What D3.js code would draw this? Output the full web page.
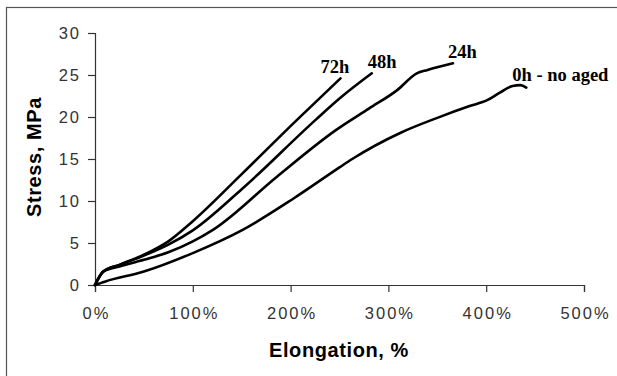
<!DOCTYPE html>
<html>
<head>
<meta charset="utf-8">
<script src="https://cdn.jsdelivr.net/npm/d3@7/dist/d3.min.js"></script>
<style>
  html, body { margin: 0; padding: 0; background: #fff; }
  svg { display: block; }
  .tick text { font-family: "Liberation Sans", Arial, sans-serif; font-size: 16.5px; fill: #333; letter-spacing: 2px; }
  .axis-title { font-family: "Liberation Sans", Arial, sans-serif; font-size: 20px; font-weight: bold; fill: #000; letter-spacing: 0.6px; }
  .curve-label { font-family: "Liberation Serif", "Times New Roman", serif; font-size: 18.5px; font-weight: bold; fill: #000; }
</style>
</head>
<body>
<svg id="chart" width="617" height="376"></svg>
<script>
// Tensile curves (elongation %, stress MPa) after different ageing times
const seriesNames = ["72h", "48h", "24h", "0h - no aged"];

const elong72 = [0, 8.5, 25, 50, 75, 100, 150, 206, 251];
const stress72 = [0, 1.6, 2.4, 3.6, 5.2, 7.6, 13.2, 19.6, 24.6];

const elong48 = [0, 8.5, 25, 50, 75, 100, 150, 225, 250, 283];
const stress48 = [0, 1.6, 2.4, 3.5, 4.8, 6.5, 11.4, 19.6, 22.2, 25.2];

const elong24 = [0, 8.5, 25, 50, 75, 100, 121, 186, 247, 280, 309, 329, 340, 366];
const stress24 = [0, 1.6, 2.2, 3.0, 3.9, 5.2, 6.6, 12.9, 18.5, 21.0, 23.2, 25.2, 25.6, 26.4];

const elong0 = [0, 10, 50, 100, 150, 203, 250, 263, 312, 350, 383, 401, 414, 427, 435, 441];
const stress0 = [0, 0.4, 1.6, 3.8, 6.5, 10.3, 14.0, 15.0, 18.1, 19.9, 21.3, 22.0, 22.9, 23.7, 23.8, 23.5];

const xTicks = [0, 100, 200, 300, 400, 500];
const yTicks = [0, 5, 10, 15, 20, 25, 30];

const svg = d3.select("#chart");

// outer frame (only its top and left edges fall inside the view)
svg.append("rect")
  .attr("x", 6.5).attr("y", 7.5)
  .attr("width", 800).attr("height", 600)
  .attr("fill", "none").attr("stroke", "#555").attr("stroke-width", 1.2);

const x = d3.scaleLinear().domain([0, 500]).range([95, 584]);
const y = d3.scaleLinear().domain([0, 30]).range([285, 33]);

const xAxis = svg.append("g")
  .attr("transform", `translate(0,${y(0)})`)
  .call(d3.axisBottom(x).tickValues(xTicks).tickSize(7).tickPadding(15).tickFormat(d => d + "%"));
xAxis.selectAll("text").attr("dx", "1px");

const yAxis = svg.append("g")
  .attr("transform", `translate(${x(0)},0)`)
  .call(d3.axisLeft(y).tickValues(yTicks).tickSize(7).tickPadding(7));

[xAxis, yAxis].forEach(g => {
  g.select(".domain").attr("stroke", "#333").attr("stroke-width", 1.2);
  g.selectAll(".tick line").attr("stroke", "#333").attr("stroke-width", 1.2);
});

// axis titles
svg.append("text")
  .attr("class", "axis-title")
  .attr("x", 339).attr("y", 357)
  .attr("text-anchor", "middle")
  .text("Elongation, %");

svg.append("text")
  .attr("class", "axis-title")
  .attr("transform", "translate(41,157) rotate(-90)")
  .attr("text-anchor", "middle")
  .text("Stress, MPa");

// curves
const curves = [
  { name: seriesNames[0], xs: elong72, ys: stress72, dx: -20, dy: -5 },
  { name: seriesNames[1], xs: elong48, ys: stress48, dx: -4, dy: -5 },
  { name: seriesNames[2], xs: elong24, ys: stress24, dx: -5, dy: -5 },
  { name: seriesNames[3], xs: elong0, ys: stress0, dx: -14, dy: -7 }
];

const line = d3.line()
  .x(d => x(d[0]))
  .y(d => y(d[1]))
  .curve(d3.curveMonotoneX);

curves.forEach(c => {
  const pts = c.xs.map((v, i) => [v, c.ys[i]]);
  svg.append("path")
    .datum(pts)
    .attr("d", line)
    .attr("fill", "none")
    .attr("stroke", "#000")
    .attr("stroke-width", 2.6)
    .attr("stroke-linejoin", "round")
    .attr("stroke-linecap", "round");

  const last = pts[pts.length - 1];
  svg.append("text")
    .attr("class", "curve-label")
    .attr("x", x(last[0]) + c.dx)
    .attr("y", y(last[1]) + c.dy)
    .text(c.name);
});
</script>
</body>
</html>
